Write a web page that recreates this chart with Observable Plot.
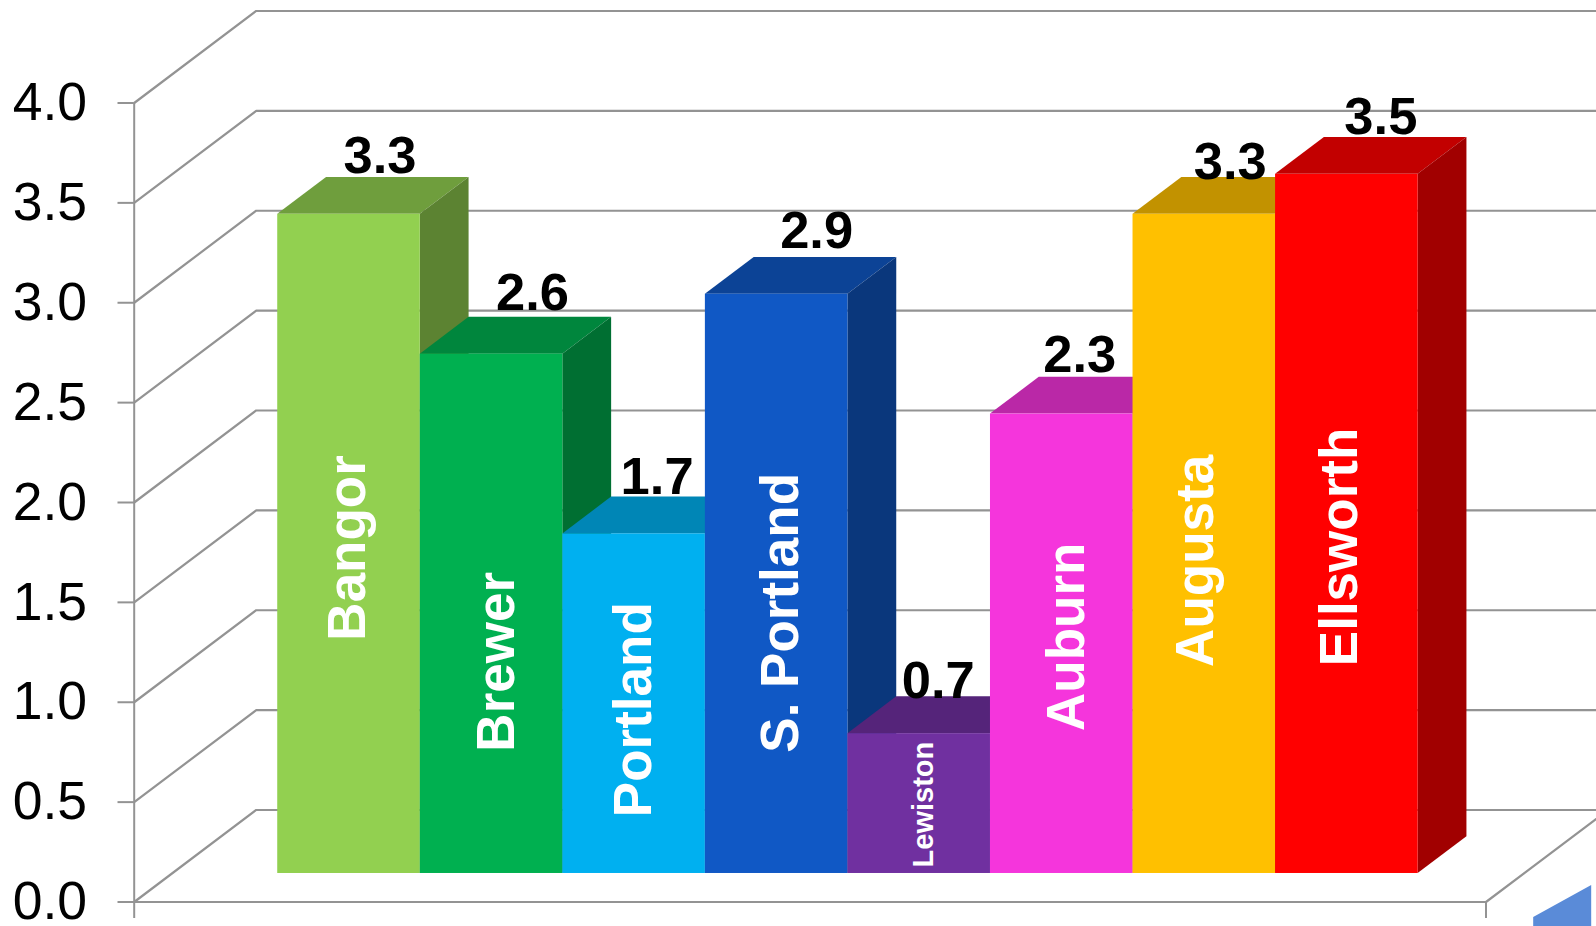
<!DOCTYPE html>
<html>
<head>
<meta charset="utf-8">
<script src="https://cdn.jsdelivr.net/npm/d3@7"></script>
<script src="https://cdn.jsdelivr.net/npm/@observablehq/plot@0.6"></script>
<style>
  html, body { margin: 0; padding: 0; background: #fff; overflow: hidden; }
  svg { display: block; }
</style>
</head>
<body>
<div id="chart"></div>
<script>
// Chart values
const cities = ["Bangor", "Brewer", "Portland", "S. Portland", "Lewiston", "Auburn", "Augusta", "Ellsworth"];
const values = [3.3, 2.6, 1.7, 2.9, 0.7, 2.3, 3.3, 3.5];
const yTicks = [0, 0.5, 1, 1.5, 2, 2.5, 3, 3.5, 4];
const barColors = ["#92D050", "#00B050", "#00B0F0", "#1058C5", "#7030A0", "#F535DC", "#FFC000", "#FF0000"];

// Oblique projection of the box: how far one full unit of depth shifts a point,
// measured in x slots and y-axis units.
const depthX = 0.856;
const depthY = 0.4606;
const barFront = 0.31;
const barBack = 0.71;
const frameLeft = -0.7415;
const frameRight = 8.7415;
const tickDrop = -0.0826;
const shift = (depth) => ({x: depth * depthX, y: depth * depthY});

// Wall and floor lines: each runs from the front edge to the back wall, then along it.
const gridLines = yTicks.flatMap((t) => [
  {tick: t, x: frameLeft, y: t},
  {tick: t, x: frameLeft + depthX, y: t + depthY},
  {tick: t, x: frameRight + depthX, y: t + depthY}
]);
const floorEdge = [
  {x: frameLeft, y: 0},
  {x: frameRight, y: 0},
  {x: frameRight + depthX, y: depthY}
];

// Hand placement of the labels, in pixels from their default spot.
const nameNudge = {
  "Bangor": [-1, 4], "Brewer": [5, 48], "Portland": [0, 6], "S. Portland": [4, 29],
  "Lewiston": [5, 1], "Auburn": [5, -7], "Augusta": [-8, 17], "Ellsworth": [-7, 23]
};
const valueNudge = {
  "Bangor": [31, -5], "Brewer": [41, -7], "Portland": [23, -3], "S. Portland": [40, -9],
  "Lewiston": [19, 1], "Auburn": [18, -5], "Augusta": [26, 1], "Ellsworth": [34, -4]
};

// Corner of the neighbouring object that pokes into the lower right.
const cornerSwatch = [
  {x: 9.076, low: -0.2, high: -0.0776},
  {x: 9.483, low: -0.2, high: 0.0826}
];

const bars = cities.map((name, i) => ({name, i, value: values[i], color: barColors[i]}));
const darker = (color, k) => {
  const c = d3.rgb(color);
  return d3.rgb(c.r * k, c.g * k, c.b * k).formatHex();
};

// Each bar paints top, side, then front, left to right, so a neighbour overlaps it.
const barFaces = bars.flatMap((b) => {
  const f = shift(barFront);
  const k = shift(barBack);
  return [
    Plot.areaX(
      [
        {y: b.value + f.y, x1: b.i + f.x, x2: b.i + 1 + f.x},
        {y: b.value + k.y, x1: b.i + k.x, x2: b.i + 1 + k.x}
      ],
      {y: "y", x1: "x1", x2: "x2", fill: darker(b.color, 0.76)}
    ),
    Plot.areaY(
      [
        {x: b.i + 1 + f.x, y1: f.y, y2: b.value + f.y},
        {x: b.i + 1 + k.x, y1: k.y, y2: b.value + k.y}
      ],
      {x: "x", y1: "y1", y2: "y2", fill: darker(b.color, 0.63)}
    ),
    Plot.rectY([b], {
      x1: (d) => d.i + f.x,
      x2: (d) => d.i + 1 + f.x,
      y1: f.y,
      y2: (d) => d.value + f.y,
      fill: "name"
    })
  ];
});

const nameLabels = bars.map((b) => {
  const f = shift(barFront);
  return Plot.text([b], {
    x: (d) => d.i + 0.5 + f.x,
    y: (d) => d.value / 2 + f.y,
    text: "name",
    rotate: -90,
    fill: "white",
    fontWeight: "bold",
    fontSize: b.value < 1 ? 29 : 53,
    dx: nameNudge[b.name][0],
    dy: nameNudge[b.name][1]
  });
});

const valueLabels = bars.map((b) => {
  const f = shift(barFront);
  const k = shift(barBack);
  return Plot.text([b], {
    x: (d) => d.i + 0.5 + f.x,
    y: (d) => d.value + k.y,
    text: (d) => d.value.toFixed(1),
    fill: "black",
    fontWeight: "bold",
    fontSize: 52.5,
    lineAnchor: "bottom",
    dx: valueNudge[b.name][0],
    dy: valueNudge[b.name][1]
  });
});

const gridColor = "#939393";

const chart = Plot.plot({
  width: 1596,
  height: 926,
  marginLeft: 133.5,
  marginRight: 0,
  marginTop: 102.5,
  marginBottom: 24.5,
  style: {fontFamily: "'Liberation Sans', Arial, sans-serif", background: "white"},
  x: {type: "linear", domain: [0, 8], range: [239.4, 1379.8], axis: null},
  y: {domain: [0, 4], axis: null},
  color: {type: "ordinal", domain: cities, range: barColors},
  marks: [
    Plot.line(gridLines, {x: "x", y: "y", z: "tick", stroke: gridColor, strokeWidth: 2.2}),
    Plot.line(floorEdge, {x: "x", y: "y", stroke: gridColor, strokeWidth: 2.2}),
    Plot.ruleX([frameLeft], {y1: tickDrop, y2: 4, stroke: gridColor, strokeWidth: 2}),
    Plot.ruleX([frameRight], {y1: tickDrop, y2: 0, stroke: gridColor, strokeWidth: 2}),
    Plot.axisY({
      anchor: "left",
      ticks: yTicks,
      tickFormat: d3.format(".1f"),
      tickSize: 16,
      tickPadding: 31,
      stroke: gridColor,
      strokeWidth: 2,
      fill: "black",
      fontSize: 53.5,
      label: null
    }),
    Plot.areaY(cornerSwatch, {x: "x", y1: "low", y2: "high", fill: "#5A8BD8"}),
    ...barFaces,
    ...nameLabels,
    ...valueLabels
  ]
});

document.getElementById("chart").appendChild(chart);
</script>
</body>
</html>
